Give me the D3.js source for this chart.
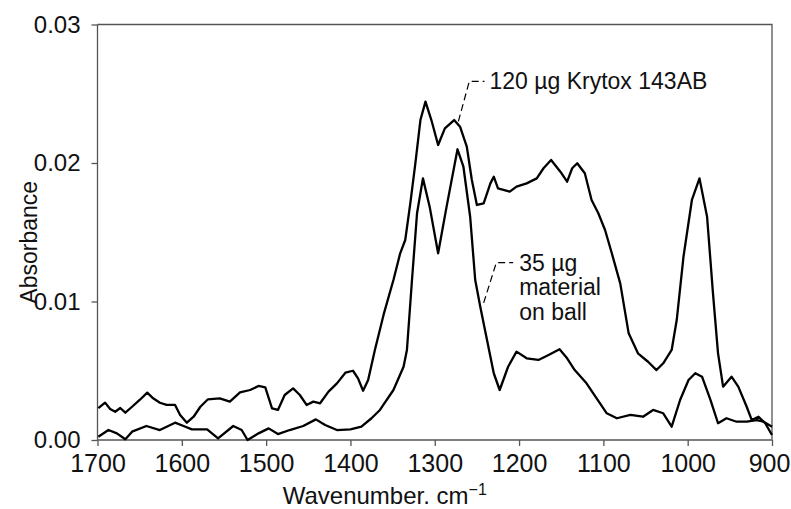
<!DOCTYPE html>
<html>
<head>
<meta charset="utf-8">
<script src="https://cdn.jsdelivr.net/npm/d3@7"></script>
<style>
  body { margin: 0; background: #fff; }
  text { font-family: "Liberation Sans", Arial, sans-serif; fill: #111; }
</style>
</head>
<body>
<div id="chart"></div>
<script>
// Data (wavenumber cm-1, absorbance)
const krytoxWn = [1699,1691,1685,1679,1673,1667,1659,1650,1641,1634,1626,1618,1608,1602,1594,1586,1578,1569,1555,1543,1531,1519,1509,1501,1493,1486,1478,1468,1460,1452,1444,1436,1426,1416,1406,1397,1391,1385,1379,1371,1360,1349,1341,1335,1329,1323,1317,1311,1304,1296,1288,1277,1270,1262,1256,1250,1242,1234,1230,1225,1211,1203,1191,1179,1171,1162,1151,1143,1137,1131,1122,1114,1106,1098,1090,1080,1070,1059,1047,1037,1029,1019,1013,1005,995,986,977,970,964,958,948,940,930,924,916,908,900]
const krytoxAbs = [0.0023,0.0027,0.00224,0.00204,0.00231,0.00197,0.0024,0.00289,0.00342,0.00301,0.00269,0.00253,0.00253,0.00181,0.00125,0.00168,0.0024,0.00294,0.00301,0.00277,0.00344,0.00361,0.0039,0.0038,0.00229,0.00217,0.00325,0.00373,0.00325,0.00253,0.00277,0.00265,0.00349,0.00409,0.00486,0.005,0.00445,0.00356,0.00433,0.0065,0.0092,0.01155,0.01348,0.01444,0.01709,0.01998,0.0231,0.02443,0.0231,0.0213,0.0225,0.0231,0.02262,0.02118,0.01877,0.01697,0.01709,0.01853,0.01901,0.01817,0.01793,0.01829,0.01853,0.01889,0.01962,0.02022,0.01937,0.01865,0.01962,0.01998,0.01926,0.01733,0.01637,0.01516,0.01348,0.01131,0.0077,0.00626,0.00565,0.00505,0.00554,0.0065,0.00866,0.01323,0.01733,0.01889,0.01612,0.01059,0.00626,0.00385,0.00457,0.00385,0.0024,0.00144,0.00168,0.00121,0.00036]

const ballWn = [1699,1687,1677,1667,1659,1642,1626,1608,1598,1588,1570,1557,1539,1529,1522,1509,1497,1486,1472,1456,1441,1430,1416,1400,1387,1375,1365,1349,1337,1333,1327,1321,1314,1306,1296,1286,1273,1266,1258,1252,1246,1238,1230,1223,1213,1203,1191,1177,1165,1152,1143,1134,1120,1108,1096,1084,1068,1053,1041,1029,1019,1009,999,991,983,973,964,954,942,930,918,910,900]
const ballAbs = [0.00024,0.00072,0.00048,0.00005,0.0006,0.00101,0.00072,0.00125,0.00101,0.00077,0.00077,0.00012,0.00101,0.00072,0.0,0.00048,0.00084,0.00043,0.00072,0.00101,0.00149,0.00108,0.00072,0.00077,0.00096,0.00157,0.00217,0.00361,0.00529,0.0065,0.01155,0.01637,0.01889,0.01683,0.01348,0.01683,0.02099,0.01973,0.01612,0.01155,0.00962,0.00722,0.00482,0.00361,0.00529,0.00638,0.0059,0.00578,0.00614,0.00655,0.0059,0.00505,0.00409,0.00301,0.00193,0.00157,0.00181,0.00168,0.00217,0.00193,0.00096,0.00289,0.00433,0.00482,0.00457,0.00289,0.00121,0.00157,0.00132,0.00132,0.00144,0.00132,0.00096]

const xTicks = [1700,1600,1500,1400,1300,1200,1100,1000,900]
const yTicks = [0, 0.01, 0.02, 0.03]
const yTickLabels = ['0.00','0.01','0.02','0.03']

// annotation anchors: [curve point, knee, end of shoulder] in data units
const krytoxLabel = ['120 µg Krytox 143AB']
const krytoxLeader = [[1272,0.0230],[1259,0.0259],[1241,0.0259]]
const ballLabel = ['35 µg','material','on ball']
const ballLeader = [[1242,0.0099],[1227,0.0128],[1207,0.0128]]

// Dimensions
let dimensions = {
    width: 791,
    height: 509,
    margin: { top: 24.5, bottom: 69, left: 97.5, right: 19 }
}
dimensions.ctrWidth = dimensions.width - dimensions.margin.left - dimensions.margin.right
dimensions.ctrHeight = dimensions.height - dimensions.margin.top - dimensions.margin.bottom

const svg = d3.select('#chart')
    .append('svg')
    .attr('width', dimensions.width)
    .attr('height', dimensions.height)

const ctr = svg.append('g')
    .attr('transform', `translate(${dimensions.margin.left},${dimensions.margin.top})`)

// Scales
const xScale = d3.scaleLinear()
    .domain([1700, 900])
    .range([0, dimensions.ctrWidth])
const yScale = d3.scaleLinear()
    .domain([0, 0.03])
    .range([dimensions.ctrHeight, 0])

// Frame (top and right)
ctr.append('path')
    .attr('d', `M0,0H${dimensions.ctrWidth}V${dimensions.ctrHeight}`)
    .attr('fill', 'none')
    .attr('stroke', '#555')
    .attr('stroke-width', 1.3)

// Axes
const xAxis = d3.axisBottom(xScale)
    .tickValues(xTicks)
    .tickSize(6)
    .tickPadding(8)
    .tickFormat(d3.format('d'))
const xAxisGroup = ctr.append('g')
    .attr('transform', `translate(0,${dimensions.ctrHeight})`)
    .call(xAxis)
xAxisGroup.select('.domain').attr('d', `M0,0H${dimensions.ctrWidth}`)

const yAxis = d3.axisLeft(yScale)
    .tickValues(yTicks)
    .tickSize(6)
    .tickPadding(11)
    .tickFormat((d, i) => yTickLabels[i])
const yAxisGroup = ctr.append('g').call(yAxis)
yAxisGroup.select('.domain').attr('d', `M0,${dimensions.ctrHeight}V0`)

ctr.selectAll('.domain, .tick line')
    .attr('stroke', '#555')
    .attr('stroke-width', 1.3)
ctr.selectAll('.tick text')
    .attr('font-family', '"Liberation Sans", Arial, sans-serif')
    .attr('fill', '#111')
xAxisGroup.selectAll('.tick text').attr('font-size', 25)
yAxisGroup.selectAll('.tick text').attr('font-size', 24)
// last label sits against the right edge
xAxisGroup.selectAll('.tick text').filter(d => d === 900).attr('dx', -3)

// axis titles
const xTitle = xAxisGroup.append('text')
    .attr('x', dimensions.ctrWidth / 2 - 50)
    .attr('y', 64)
    .attr('text-anchor', 'middle')
    .attr('font-size', 24)
xTitle.append('tspan').text('Wavenumber. cm')
xTitle.append('tspan').attr('dy', -9).attr('font-size', 16).text('−1')

yAxisGroup.append('text')
    .attr('transform', 'rotate(-90)')
    .attr('x', -dimensions.ctrHeight / 2 - 10)
    .attr('y', -dimensions.margin.left + 37)
    .attr('text-anchor', 'middle')
    .attr('font-size', 23)
    .text('Absorbance')

// Spectra
const krytox = krytoxWn.map((w, i) => [w, krytoxAbs[i]])
const ball = ballWn.map((w, i) => [w, ballAbs[i]])
const line = d3.line()
    .x(d => xScale(d[0]))
    .y(d => yScale(d[1]))

ctr.selectAll('path.spectrum')
    .data([krytox, ball])
    .join('path')
    .attr('class', 'spectrum')
    .attr('d', line)
    .attr('fill', 'none')
    .attr('stroke', '#000')
    .attr('stroke-width', 2.3)
    .attr('stroke-linejoin', 'round')

// Annotations
const leader = d3.line().x(d => xScale(d[0])).y(d => yScale(d[1]))
ctr.selectAll('path.leader')
    .data([krytoxLeader, ballLeader])
    .join('path')
    .attr('class', 'leader')
    .attr('d', leader)
    .attr('fill', 'none')
    .attr('stroke', '#000')
    .attr('stroke-width', 1.2)
    .attr('stroke-dasharray', '7,4')

ctr.append('text')
    .attr('x', xScale(krytoxLeader[2][0]) + 5)
    .attr('y', yScale(krytoxLeader[2][1]) + 8)
    .attr('font-size', 23)
    .text(krytoxLabel[0])

ctr.append('text')
    .attr('x', xScale(ballLeader[2][0]) + 6)
    .attr('y', yScale(ballLeader[2][1]) + 8)
    .attr('font-size', 23)
    .selectAll('tspan')
    .data(ballLabel)
    .join('tspan')
    .attr('x', xScale(ballLeader[2][0]) + 6)
    .attr('dy', (d, i) => i === 0 ? 0 : 24.5)
    .text(d => d)
</script>
</body>
</html>
